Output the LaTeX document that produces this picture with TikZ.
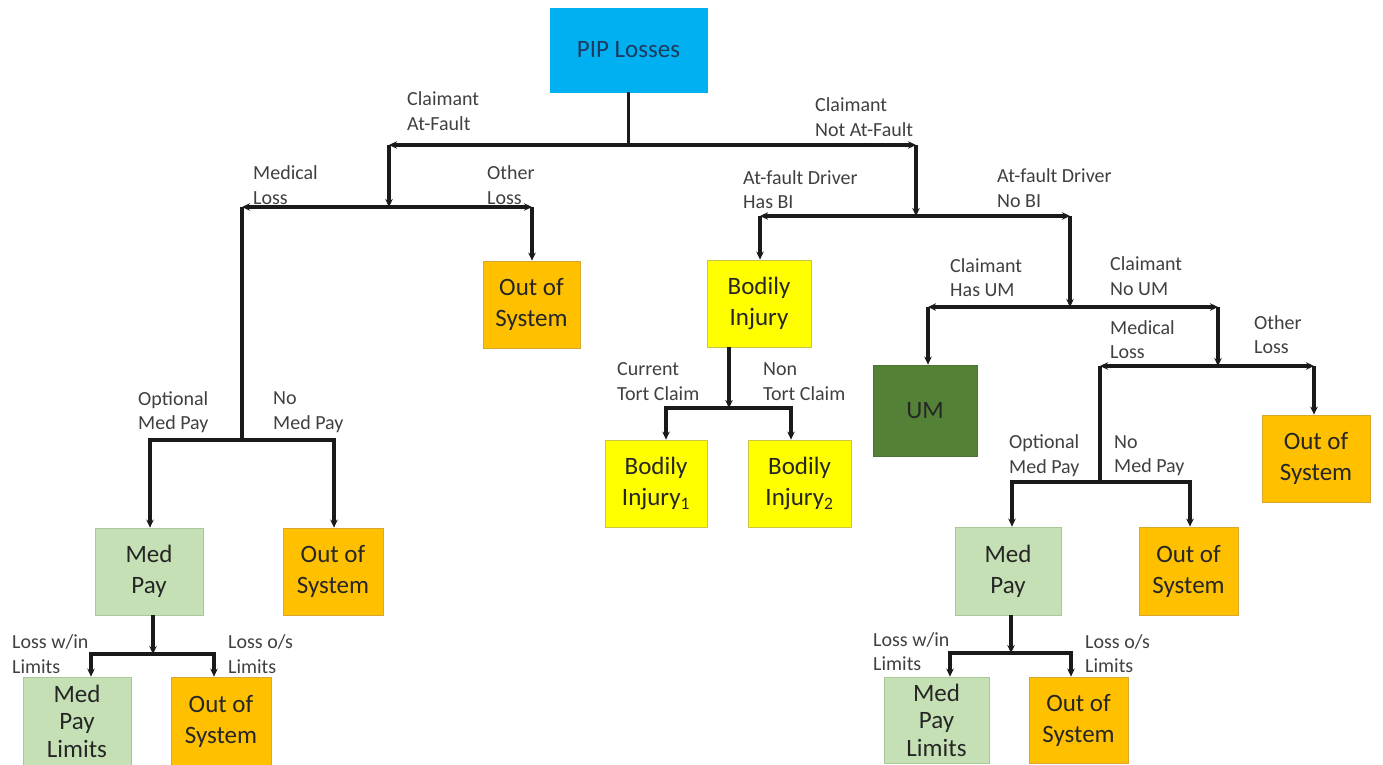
\documentclass[tikz,border=0pt]{standalone}
\usepackage{fontspec}
\setmainfont{Carlito}
\usetikzlibrary{arrows.meta}
\definecolor{pipblue}{HTML}{00B0F0}
\definecolor{piptext}{HTML}{1F3A60}
\definecolor{orfill}{HTML}{FFC000}
\definecolor{ordraw}{HTML}{D9A62E}
\definecolor{ylfill}{HTML}{FFFF00}
\definecolor{yldraw}{HTML}{C8C840}
\definecolor{lgfill}{HTML}{C5E0B4}
\definecolor{lgdraw}{HTML}{A8C89A}
\definecolor{umfill}{HTML}{538135}
\definecolor{umdraw}{HTML}{4A7430}
\definecolor{boxtext}{HTML}{262626}
\definecolor{lbltext}{HTML}{404040}
\definecolor{linec}{HTML}{1A1A1A}
\begin{document}
\begin{tikzpicture}[x=1pt,y=-1pt,
  boxbase/.style={inner sep=0pt, align=center, font=\fontsize{25}{31}\selectfont, text=boxtext, line width=0.8pt},
  pipbox/.style={boxbase, fill=pipblue, draw=pipblue, text=piptext},
  orbox/.style={boxbase, fill=orfill, draw=ordraw},
  ylbox/.style={boxbase, fill=ylfill, draw=yldraw},
  lgbox/.style={boxbase, fill=lgfill, draw=lgdraw},
  umbox/.style={boxbase, fill=umfill, draw=umdraw, text=black!85},
  lbl/.style={anchor=west, align=left, inner sep=0pt, font=\fontsize{20}{24.5}\selectfont, text=lbltext},
  conn/.style={line width=3.2pt, draw=linec},
  arr/.style={conn, -{Stealth[length=8pt,width=7.5pt]}}
]
\useasboundingbox (0,0) rectangle (1383,765);
\fill[white] (0,0) rectangle (1383,765);

% boxes
\node[pipbox, minimum width=157pt, minimum height=84pt] (pip) at (628.5,50) {PIP Losses};
\node[orbox, minimum width=97pt, minimum height=87pt] (oosA) at (531.5,304.5) {Out of\\System};
\node[ylbox, minimum width=104pt, minimum height=87pt] (bi) at (759,303.5) {Bodily\\Injury};
\node[ylbox, minimum width=102pt, minimum height=87pt] (bi1) at (656,483.5) {Bodily\\Injury\textsubscript{1}};
\node[ylbox, minimum width=103pt, minimum height=87pt] (bi2) at (799.5,483.5) {Bodily\\Injury\textsubscript{2}};
\node[umbox, minimum width=104pt, minimum height=91pt] (um) at (925,410.5) {UM};
\node[orbox, minimum width=108pt, minimum height=87pt] (oosR) at (1316,458.5) {Out of\\System};
\node[lgbox, minimum width=108pt, minimum height=87pt] (mpL) at (149,571.5) {Med\\Pay};
\node[orbox, minimum width=100pt, minimum height=87pt] (oosL2) at (333,571.5) {Out of\\System};
\node[lgbox, minimum width=108pt, minimum height=88pt, font=\fontsize{25}{27.5}\selectfont] (mplL) at (77,721) {Med\\Pay\\Limits};
\node[orbox, minimum width=100pt, minimum height=88pt] (oosL3) at (221,721) {Out of\\System};
\node[lgbox, minimum width=106pt, minimum height=88pt] (mpR) at (1008,571) {Med\\Pay};
\node[orbox, minimum width=99pt, minimum height=88pt] (oosR2) at (1188.5,571) {Out of\\System};
\node[lgbox, minimum width=105pt, minimum height=86pt, font=\fontsize{25}{27.5}\selectfont] (mplR) at (936.5,720) {Med\\Pay\\Limits};
\node[orbox, minimum width=99pt, minimum height=86pt] (oosR3) at (1078.5,720) {Out of\\System};

% coordinates
\coordinate (j1) at (628.5,145);
\coordinate (c1L) at (389,145);
\coordinate (c1R) at (916,145);
\coordinate (j2) at (389,207);
\coordinate (c2L) at (242,207);
\coordinate (c2R) at (532,207);
\coordinate (j3) at (242,440);
\coordinate (c3L) at (150,440);
\coordinate (c3R) at (334,440);
\coordinate (j9) at (153,654);
\coordinate (c9L) at (91,654);
\coordinate (c9R) at (214,654);
\coordinate (j4) at (916,216);
\coordinate (c4L) at (760,216);
\coordinate (c4R) at (1070,216);
\coordinate (j5) at (1070,307);
\coordinate (c5L) at (928,307);
\coordinate (c5R) at (1218,307);
\coordinate (j6) at (1218,366);
\coordinate (c6L) at (1100,366);
\coordinate (c6R) at (1314,366);
\coordinate (j7) at (1100,482);
\coordinate (c7L) at (1012,482);
\coordinate (c7R) at (1190,482);
\coordinate (j8) at (1011,653);
\coordinate (c8L) at (950,653);
\coordinate (c8R) at (1071,653);
\coordinate (jb) at (729,408);
\coordinate (cbL) at (666,408);
\coordinate (cbR) at (791,408);

% connectors
\draw[conn] (pip.south) -- (j1);
\draw[arr] (j1) -- (c1L);
\draw[arr] (j1) -- (c1R);
\draw[arr] (c1L) -- (j2);
\draw[arr] (j2) -- (c2L);
\draw[arr] (j2) -- (c2R);
\draw[arr] (c2R) -- (c2R |- oosA.north);
\draw[conn] (c2L) -- (j3);
\draw[arr] (j3) -- (c3L) -- (c3L |- mpL.north);
\draw[arr] (j3) -- (c3R) -- (c3R |- oosL2.north);
\draw[arr] (j9 |- mpL.south) -- (j9);
\draw[arr] (j9) -- (c9L) -- (c9L |- mplL.north);
\draw[arr] (j9) -- (c9R) -- (c9R |- oosL3.north);

\draw[arr] (c1R) -- (j4);
\draw[arr] (j4) -- (c4L);
\draw[arr] (j4) -- (c4R);
\draw[arr] (c4L) -- (c4L |- bi.north);
\draw[arr] (jb |- bi.south) -- (jb);
\draw[arr] (jb) -- (cbL) -- (cbL |- bi1.north);
\draw[arr] (jb) -- (cbR) -- (cbR |- bi2.north);
\draw[arr] (c4R) -- (j5);
\draw[arr] (j5) -- (c5L);
\draw[arr] (j5) -- (c5R);
\draw[arr] (c5L) -- (c5L |- um.north);
\draw[arr] (c5R) -- (j6);
\draw[arr] (j6) -- (c6L);
\draw[arr] (j6) -- (c6R);
\draw[arr] (c6R) -- (c6R |- oosR.north);
\draw[conn] (c6L) -- (j7);
\draw[arr] (j7) -- (c7L) -- (c7L |- mpR.north);
\draw[arr] (j7) -- (c7R) -- (c7R |- oosR2.north);
\draw[arr] (j8 |- mpR.south) -- (j8);
\draw[arr] (j8) -- (c8L) -- (c8L |- mplR.north);
\draw[arr] (j8) -- (c8R) -- (c8R |- oosR3.north);

% labels
\node[lbl] (l1) at (407,111) {Claimant\\At-Fault};
\node[lbl] (l2) at (815,117) {Claimant\\Not At-Fault};
\node[lbl] (l3) at (253,185) {Medical\\Loss};
\node[lbl] (l4) at (487,185) {Other\\Loss};
\node[lbl] (l5) at (743,189.5) {At-fault Driver\\Has BI};
\node[lbl] (l6) at (997,188) {At-fault Driver\\No BI};
\node[lbl] (l7) at (950,277.5) {Claimant\\Has UM};
\node[lbl] (l8) at (1110,276) {Claimant\\No UM};
\node[lbl] (l9) at (1110,339.5) {Medical\\Loss};
\node[lbl] (l10) at (1254,334.5) {Other\\Loss};
\node[lbl] (l11) at (617,381.5) {Current\\Tort Claim};
\node[lbl] (l12) at (763,381.5) {Non\\Tort Claim};
\node[lbl] (l13) at (138,412) {Optional\\Med Pay};
\node[lbl] (l14) at (273,412) {No\\Med Pay};
\node[lbl] (l15) at (1009,455.5) {Optional\\Med Pay};
\node[lbl] (l16) at (1114,455.5) {No\\Med Pay};
\node[lbl] (l17) at (12,654) {Loss w/in\\Limits};
\node[lbl] (l18) at (228,654) {Loss o/s\\Limits};
\node[lbl] (l19) at (873,651.5) {Loss w/in\\Limits};
\node[lbl] (l20) at (1085,653.5) {Loss o/s\\Limits};
\end{tikzpicture}
\end{document}
